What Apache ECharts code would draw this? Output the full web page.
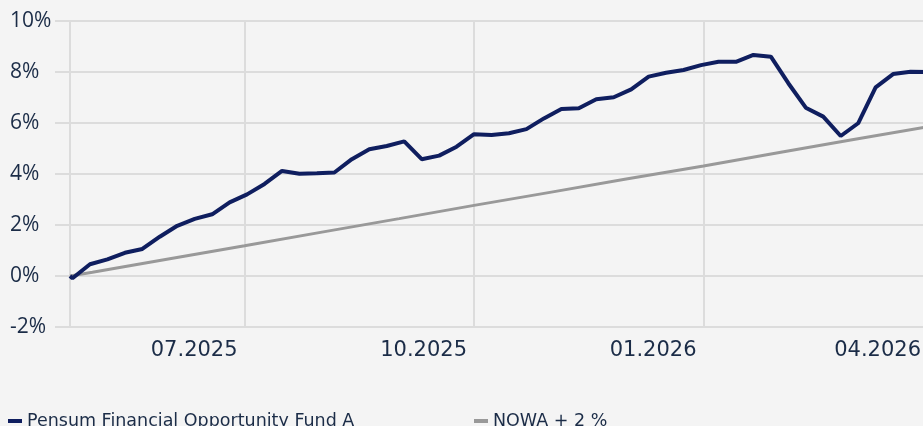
<!DOCTYPE html>
<html>
<head>
<meta charset="utf-8">
<script src="https://cdn.jsdelivr.net/npm/echarts@6/dist/echarts.min.js"></script>
<style>
html, body { margin: 0; padding: 0; background: #f4f4f4; overflow: hidden; }
#chart { width: 928px; height: 426px; }
</style>
</head>
<body>
<div id="chart"></div>
<script>
var fundName = 'Pensum Financial Opportunity Fund A';
var benchName = 'NOWA + 2 %';

// weekly points of the fund (%)
var fundDates = ['2025-04-22', '2025-04-23', '2025-04-30', '2025-05-07', '2025-05-14', '2025-05-21', '2025-05-28',
	'2025-06-04', '2025-06-11', '2025-06-18', '2025-06-25', '2025-07-02', '2025-07-09', '2025-07-16',
	'2025-07-23', '2025-07-30', '2025-08-06', '2025-08-13', '2025-08-20', '2025-08-27', '2025-09-03',
	'2025-09-10', '2025-09-17', '2025-09-24', '2025-10-01', '2025-10-08', '2025-10-15', '2025-10-22',
	'2025-10-29', '2025-11-05', '2025-11-12', '2025-11-19', '2025-11-26', '2025-12-03', '2025-12-10',
	'2025-12-17', '2025-12-24', '2025-12-31', '2026-01-07', '2026-01-14', '2026-01-21', '2026-01-28',
	'2026-02-04', '2026-02-11', '2026-02-18', '2026-02-25', '2026-03-04', '2026-03-11', '2026-03-18',
	'2026-03-25', '2026-04-01'];
var fundValues = [0, -0.09, 0.46, 0.65, 0.91, 1.06, 1.54,
	1.97, 2.24, 2.42, 2.89, 3.20, 3.61, 4.12,
	4.01, 4.03, 4.06, 4.58, 4.97, 5.10, 5.28,
	4.58, 4.72, 5.07, 5.56, 5.53, 5.60, 5.76,
	6.18, 6.55, 6.58, 6.93, 7.01, 7.32, 7.82,
	7.97, 8.08, 8.27, 8.40, 8.40, 8.67, 8.60,
	7.56, 6.60, 6.25, 5.49, 5.99, 7.40, 7.92,
	8.01, 8.00];

// benchmark (%)
var benchDates = ['2025-04-22', '2025-05-01', '2025-06-01', '2025-07-01', '2025-08-01', '2025-09-01', '2025-10-01',
	'2025-11-01', '2025-12-01', '2026-01-01', '2026-02-01', '2026-03-01', '2026-04-01'];
var benchValues = [0, 0.15, 0.68, 1.19, 1.72, 2.25, 2.77, 3.29, 3.80, 4.31, 4.85, 5.33, 5.85];

var yTicks = [-2, 0, 2, 4, 6, 8, 10];
var xStart = '2025-04-22';
var xEnd = '2026-04-01';

function toTs(s) {
	var p = s.split('-');
	return new Date(+p[0], +p[1] - 1, +p[2]).getTime();
}
function pairs(dates, vals) {
	var out = [];
	for (var i = 0; i < dates.length; i++) out.push([toTs(dates[i]), vals[i]]);
	return out;
}

var textColor = '#1b2c47';
var gridColor = '#dcdcdc';

var myChart = echarts.init(document.getElementById('chart'));
var option = {
	backgroundColor: '#f4f4f4',
	animation: false,
	grid: {
		left: 70,
		right: 0,
		top: 21,
		bottom: 99
	},
	legend: [{
		left: 8,
		top: 412,
		padding: 0,
		icon: 'rect',
		itemWidth: 14,
		itemHeight: 4,
		textStyle: { color: textColor, fontSize: 17.5, fontFamily: 'DejaVu Sans' },
		data: [fundName]
	}, {
		left: 474,
		top: 412,
		padding: 0,
		icon: 'rect',
		itemWidth: 14,
		itemHeight: 4,
		textStyle: { color: textColor, fontSize: 17.5, fontFamily: 'DejaVu Sans' },
		data: [benchName]
	}],
	xAxis: {
		type: 'time',
		min: toTs(xStart),
		max: toTs(xEnd),
		splitNumber: 3,
		axisLine: { show: false },
		axisTick: { show: true, length: 13, lineStyle: { color: gridColor, width: 2 } },
		splitLine: { show: true, lineStyle: { color: gridColor, width: 2 } },
		axisLabel: {
			color: textColor,
			fontSize: 21,
			fontFamily: 'DejaVu Sans',
			align: 'right',
			margin: 13,
			padding: [0, 7, 0, 0],
			showMinLabel: false,
			showMaxLabel: true,
			formatter: function (val) {
				var d = new Date(val);
				var m = d.getMonth() + 1;
				return (m < 10 ? '0' + m : m) + '.' + d.getFullYear();
			}
		}
	},
	yAxis: {
		type: 'value',
		min: yTicks[0],
		max: yTicks[yTicks.length - 1],
		interval: 2,
		axisLine: { show: false },
		axisTick: { show: true, length: 15, lineStyle: { color: gridColor, width: 2 } },
		splitLine: { show: true, lineStyle: { color: gridColor, width: 2 } },
		axisLabel: {
			color: textColor,
			fontSize: 21,
			fontFamily: 'Open Sans',
			align: 'left',
			margin: 60,
			formatter: '{value}%'
		}
	},
	series: [{
		name: benchName,
		type: 'line',
		symbol: 'none',
		color: '#999999',
		lineStyle: { width: 3, color: '#999999' },
		data: pairs(benchDates, benchValues)
	}, {
		name: fundName,
		type: 'line',
		symbol: 'none',
		color: '#0f1e5f',
		lineStyle: { width: 4, color: '#0f1e5f' },
		data: pairs(fundDates, fundValues)
	}]
};

myChart.setOption(option);
</script>
</body>
</html>
